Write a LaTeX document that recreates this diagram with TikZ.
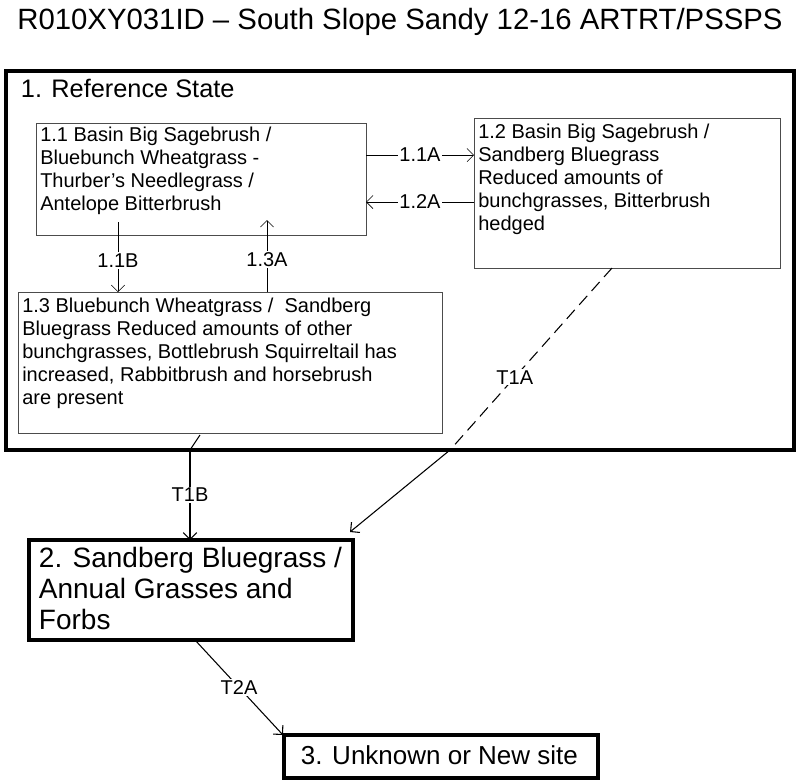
\documentclass[tikz,border=0pt]{standalone}
\usepackage{fontspec}
\setmainfont{Liberation Sans}
\usetikzlibrary{arrows.meta, positioning}

\begin{document}
\begin{tikzpicture}[x=0.75pt, y=-0.75pt,
                    every node/.style={inner sep=2pt},
                    phasebox/.style={draw=black!70},
                    phase/.style={anchor=north west, align=left, font=\fontsize{15}{17.2}\selectfont, inner sep=3pt},
                    statebox/.style={draw, line width=2.6pt},
                    state/.style={anchor=north west, align=left, font=\fontsize{21}{23.2}\selectfont, inner sep=5pt},
                    lbl/.style={fill=white, font=\fontsize{15}{17}\selectfont, inner sep=1pt},
                    >={Straight Barb[length=5pt]}]

\useasboundingbox (0,0) rectangle (800,783);

% Title and outer state
\node (title) at (400,22) {\fontsize{22}{24}\selectfont R010XY031ID -- South Slope Sandy 12-16 ARTRT/PSSPS};
\draw[line width=2.8pt] (6,71) rectangle (794,450);
\node (refname) [anchor=west, font=\fontsize{19}{21}\selectfont] at (18,88) {1. Reference State};

% Phases
\draw[phasebox] (36,123) rectangle (366,235);
\node (p11) [phase] at (36,123)
  {1.1 Basin Big Sagebrush /\\Bluebunch Wheatgrass -\\Thurber's Needlegrass /\\Antelope Bitterbrush};
\draw[phasebox] (474,118) rectangle (780,268);
\node (p12) [phase] at (474,120)
  {1.2 Basin Big Sagebrush /\\Sandberg Bluegrass\\Reduced amounts of\\bunchgrasses, Bitterbrush\\hedged};
\draw[phasebox] (18,292) rectangle (442,433);
\node (p13) [phase] at (18,294)
  {1.3 Bluebunch Wheatgrass /\ \ Sandberg\\Bluegrass Reduced amounts of other\\bunchgrasses, Bottlebrush Squirreltail has\\increased, Rabbitbrush and horsebrush\\are present};

% States
\draw[statebox] (29,540) rectangle (353,640);
\node (s2) [state] at (32,540)
  {2. Sandberg Bluegrass /\\Annual Grasses and\\Forbs};
\draw[statebox] (284,735) rectangle (598,778);
\node (s3) [state, font=\fontsize{19.5}{21}\selectfont] at (294,739) {3. Unknown or New site};

% Coordinates
\coordinate (a11) at (366,155);
\coordinate (b11) at (474,155);
\coordinate (a12) at (474,202);
\coordinate (b12) at (366,202);
\coordinate (t11) at (118,222);
\coordinate (e11) at (118,292);
\coordinate (t13) at (267,292);
\coordinate (e13) at (267,220);
\coordinate (t1a) at (612,268);
\coordinate (m1a) at (450,450);
\coordinate (e1a) at (350,532);
\coordinate (t1b) at (200,435);
\coordinate (m1b) at (190,450);
\coordinate (e1b) at (190,540);
\coordinate (t2a) at (195,640);
\coordinate (e2a) at (283,735);

% Transitions
\draw[->, thin] (a11) -- node[lbl] {1.1A} (b11);
\draw[->, thin] (a12) -- node[lbl] {1.2A} (b12);
\draw[->, thin] (t11) -- node[lbl, pos=0.55] {1.1B} (e11);
\draw[->, thin] (t13) -- node[lbl, pos=0.45] {1.3A} (e13);
\draw[dashed, dash pattern=on 9pt off 5pt, thick] (t1a) -- node[lbl, pos=0.6] {T1A} (m1a);
\draw[->, thick] (m1a) -- (e1a);
\draw[thick] (t1b) -- (m1b);
\draw[->, thick] (m1b) -- node[lbl] {T1B} (e1b);
\draw[->, thick] (t2a) -- node[lbl] {T2A} (e2a);

\end{tikzpicture}
\end{document}
